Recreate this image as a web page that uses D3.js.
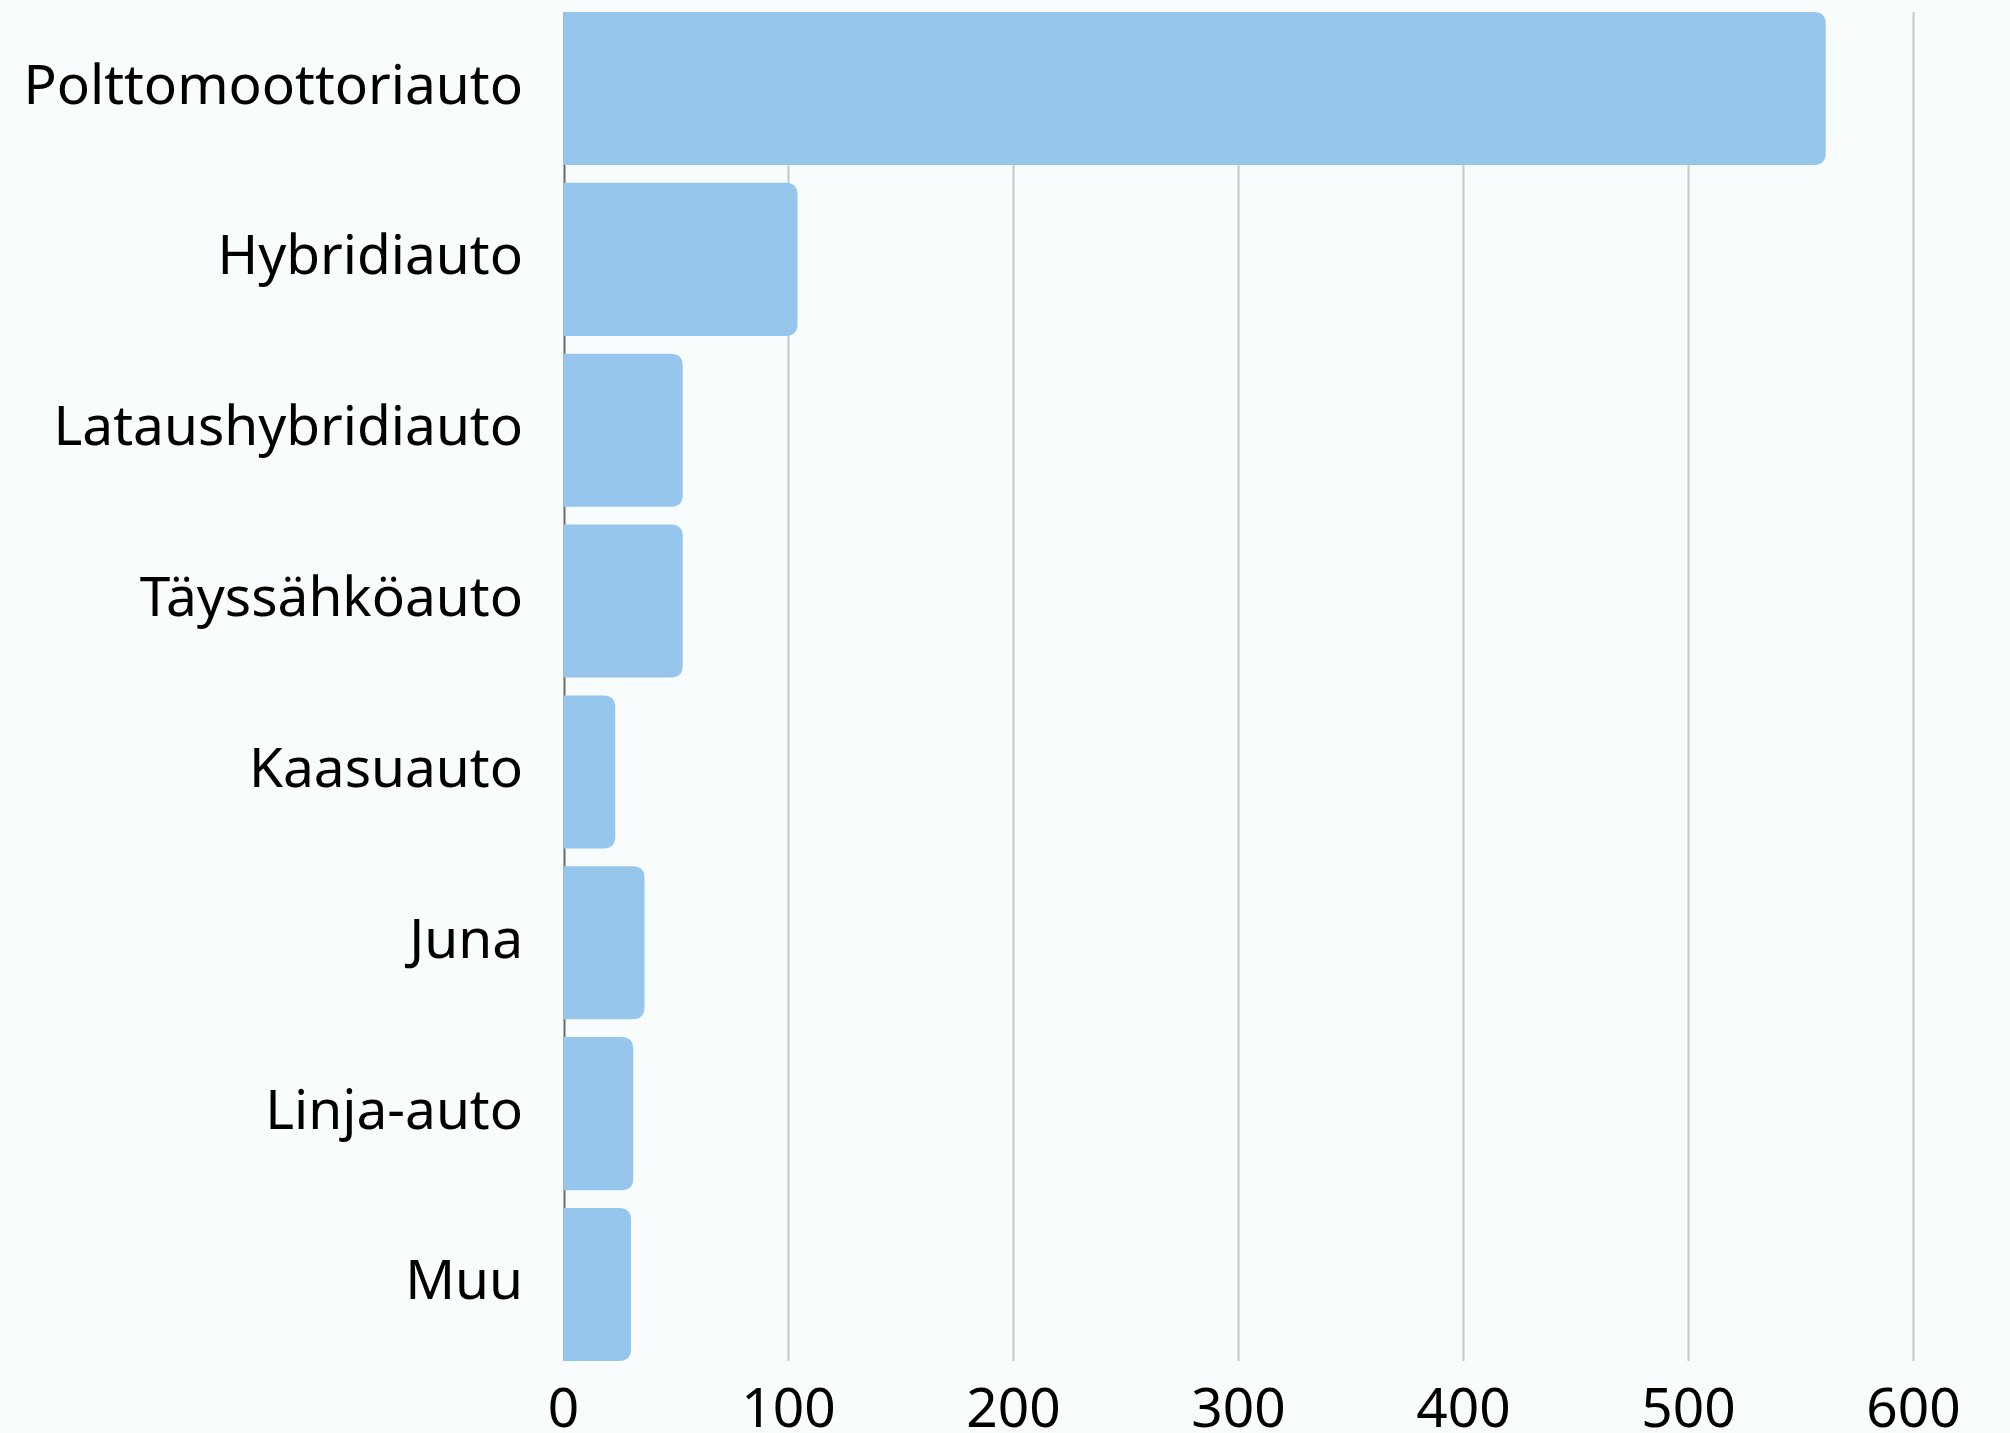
<!DOCTYPE html>
<html>
<head>
<meta charset="utf-8">
<script src="https://cdn.jsdelivr.net/npm/d3@7"></script>
<style>
  html, body { margin: 0; padding: 0; background: #f8fcfc; }
  svg { display: block; }
  text { font-family: "Noto Sans", sans-serif; fill: #000; }
</style>
</head>
<body>
<div id="chart"></div>
<script>
// Data
const categories = ["Polttomoottoriauto", "Hybridiauto", "Lataushybridiauto", "Täyssähköauto",
                    "Kaasuauto", "Juna", "Linja-auto", "Muu"];
const values = [561, 104, 53, 53, 23, 36, 31, 30];
const tickValues = [0, 100, 200, 300, 400, 500, 600];

const width = 2010, height = 1433;
const plotLeft = 563.5, plotRight = 1913.5;
const plotTop = 12, plotBottom = 1361;

const svg = d3.select("#chart").append("svg")
    .attr("width", width)
    .attr("height", height);

svg.append("rect")
    .attr("width", width).attr("height", height)
    .attr("fill", "#f8fcfc");

const x = d3.scaleLinear().domain([0, 600]).range([plotLeft, plotRight]);
const y = d3.scaleBand().domain(categories).range([plotTop, plotBottom]).paddingInner(0.104).paddingOuter(0);

// gridlines
svg.append("g")
    .selectAll("line")
    .data(tickValues.filter(d => d > 0))
    .enter().append("line")
    .attr("x1", d => x(d)).attr("x2", d => x(d))
    .attr("y1", plotTop).attr("y2", plotBottom)
    .attr("stroke", "#c6c8c8")
    .attr("stroke-width", 2);

// zero axis line (under the bars)
svg.append("line")
    .attr("x1", x(0) + 1).attr("x2", x(0) + 1)
    .attr("y1", plotTop).attr("y2", plotBottom)
    .attr("stroke", "#6b6b6b")
    .attr("stroke-width", 2);

// bars with rounded right end
const r = 12;
function barPath(d, i) {
    const x1 = x(0), x2 = x(values[i]);
    const y1 = y(d), h = y.bandwidth();
    const rr = Math.min(r, (x2 - x1) / 2);
    return `M${x1},${y1} H${x2 - rr} Q${x2},${y1} ${x2},${y1 + rr} V${y1 + h - rr} Q${x2},${y1 + h} ${x2 - rr},${y1 + h} H${x1} Z`;
}

svg.append("g")
    .selectAll("path")
    .data(categories)
    .enter().append("path")
    .attr("d", barPath)
    .attr("fill", "#96c6eb");

// category labels
svg.append("g")
    .selectAll("text")
    .data(categories)
    .enter().append("text")
    .attr("x", 523)
    .attr("y", d => y(d) + y.bandwidth() / 2 + 15)
    .attr("text-anchor", "end")
    .style("font-size", "55px")
    .text(d => d);

// x tick labels
svg.append("g")
    .selectAll("text")
    .data(tickValues)
    .enter().append("text")
    .attr("x", d => x(d))
    .attr("y", 1427)
    .attr("text-anchor", "middle")
    .style("font-size", "55px")
    .text(d => d);
</script>
</body>
</html>
